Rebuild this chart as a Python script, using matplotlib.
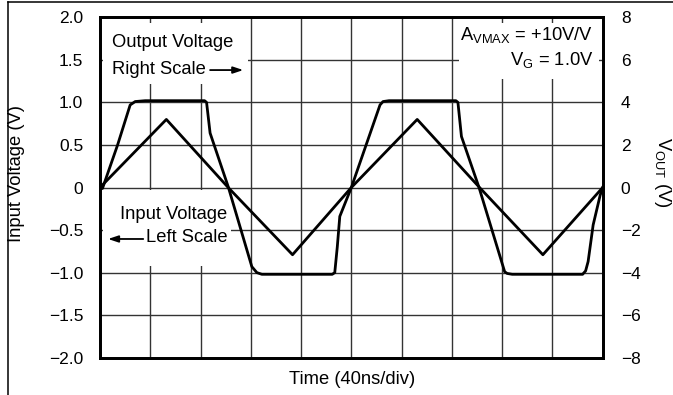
import matplotlib.pyplot as plt
from matplotlib.patches import Rectangle
from matplotlib.lines import Line2D

plt.rcParams['font.family'] = 'Liberation Sans'
plt.rcParams['mathtext.fontset'] = 'custom'
plt.rcParams['mathtext.rm'] = 'Liberation Sans'
plt.rcParams['mathtext.it'] = 'Liberation Sans:italic'

# time in divisions (40ns/div)
t_in = [0, 1.32, 2.55, 3.83, 5.0, 6.31, 7.55, 8.81, 10]
v_in = [0, 0.80, 0, -0.79, 0, 0.80, 0, -0.79, 0]

t_out = [0.0, 0.05, 0.35, 0.6, 0.7, 0.9, 2.08, 2.12, 2.19, 2.55, 3.02, 3.12,
         3.22, 4.62, 4.67, 4.72, 4.77, 5.0, 5.57, 5.63, 5.75, 7.08, 7.12, 7.19,
         7.54, 8.05, 8.1, 8.2, 9.6, 9.66, 9.71, 9.81, 9.95, 10.0]
v_out = [-0.08, -0.04, 2.0, 3.88, 4.04, 4.08, 4.08, 4.0, 2.56, 0.04, -3.72, -4.0,
         -4.08, -4.08, -4.0, -2.8, -1.36, 0.0, 3.88, 4.04, 4.08, 4.08, 4.0, 2.4,
         0.0, -3.96, -4.04, -4.08, -4.08, -3.92, -3.48, -1.76, -0.36, 0.0]

left_ticks = [-2.0, -1.5, -1.0, -0.5, 0, 0.5, 1.0, 1.5, 2.0]
left_labels = ['\u22122.0', '\u22121.5', '\u22121.0', '\u22120.5', '0',
               '0.5', '1.0', '1.5', '2.0']
right_ticks = [-8, -6, -4, -2, 0, 2, 4, 6, 8]
right_labels = ['\u22128', '\u22126', '\u22124', '\u22122', '0', '2', '4', '6', '8']

W, H = 673, 395
fig = plt.figure(figsize=(W / 100, H / 100), dpi=100)
ax = fig.add_axes([100 / W, 1 - 357.7 / H, 502.7 / W, 340.4 / H])
ax2 = ax.twinx()

ax.set_xlim(0, 10)
ax.set_ylim(-2, 2)
ax2.set_ylim(-8, 8)
ax.set_xticks(range(11))
ax.set_xticklabels([])
ax.set_yticks(left_ticks)
ax.set_yticklabels(left_labels)
ax2.set_yticks(right_ticks)
ax2.set_yticklabels(right_labels)
ax.tick_params(length=0, labelsize=12.5, pad=12)
ax.tick_params(axis='x', length=0)
ax2.tick_params(length=0, labelsize=12.5, pad=13)
ax.set_axisbelow(True)
ax.grid(True, color='#333333', lw=1.0)
for a in (ax, ax2):
    for s in a.spines.values():
        s.set_linewidth(2.0)

# white boxes behind the notes
for (x0, y0, w, h) in [(0.05, 1.22, 2.9, 0.71), (7.15, 1.28, 2.77, 0.65),
                       (0.05, -0.92, 2.55, 0.89)]:
    ax.add_patch(Rectangle((x0, y0), w, h, facecolor='white', edgecolor='none', zorder=1))

ax.plot(t_in, v_in, color='black', lw=2.0, zorder=3)
ax2.plot(t_out, v_out, color='black', lw=2.0, zorder=3)

fs = 13.2
ax.text(0.24, 1.70, 'Output Voltage', fontsize=fs, va='center', ha='left', zorder=4)
ax.text(0.24, 1.39, 'Right Scale', fontsize=fs, va='center', ha='left', zorder=4)
ax.annotate('', xy=(2.85, 1.38), xytext=(2.19, 1.38), zorder=4,
            arrowprops=dict(arrowstyle='-|>,head_length=0.6,head_width=0.2',
                            color='black', lw=1.3, shrinkA=0, shrinkB=0,
                            mutation_scale=10))
ax.text(2.53, -0.32, 'Input Voltage', fontsize=fs, va='center', ha='right', zorder=4)
ax.text(2.53, -0.59, 'Left Scale', fontsize=fs, va='center', ha='right', zorder=4)
ax.annotate('', xy=(0.16, -0.605), xytext=(0.86, -0.605), zorder=4,
            arrowprops=dict(arrowstyle='-|>,head_length=0.6,head_width=0.2',
                            color='black', lw=1.3, shrinkA=0, shrinkB=0,
                            mutation_scale=10))
ax.text(9.81, 1.79, r'A$_{\mathrm{VMAX}}$ = +10V/V', fontsize=fs, va='center', ha='right', zorder=4)
ax.text(9.81, 1.50, r'V$_{\mathrm{G}}$ = 1.0V', fontsize=fs, va='center', ha='right', zorder=4)

fig.text(352 / W, 1 - 380 / H, 'Time (40ns/div)', fontsize=fs, ha='center', va='center')
fig.text(17 / W, 1 - 174 / H, 'Input Voltage (V)', fontsize=fs, ha='center', va='center',
         rotation=90)
fig.text(663 / W, 1 - 172 / H, r'V$_{\mathrm{OUT}}$ (V)', fontsize=fs, ha='center',
         va='center', rotation=-90)

# page frame (top and left edges)
fig.add_artist(Line2D([8 / W, 8 / W], [0, 1 - 2 / H], color='black', lw=1.1))
fig.add_artist(Line2D([8 / W, 1], [1 - 2 / H, 1 - 2 / H], color='black', lw=1.1))

fig.savefig('out.png', dpi=100)
